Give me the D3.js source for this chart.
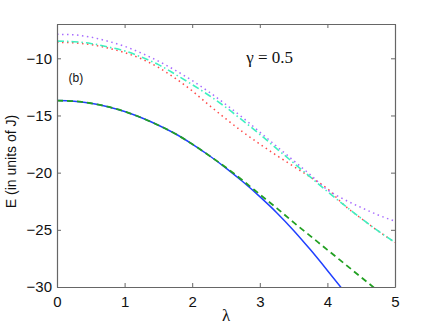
<!DOCTYPE html>
<html>
<head>
<meta charset="utf-8">
<script src="https://cdn.jsdelivr.net/npm/d3@7"></script>
<style>
  html, body { margin: 0; padding: 0; background: #fff; }
  svg { display: block; }
</style>
</head>
<body>
<div id="chart"></div>
<script>
// lambda grid shared by every curve
const lambdas = [0, 0.25, 0.5, 0.75, 1, 1.25, 1.5, 1.75, 2, 2.25, 2.5, 2.75, 3, 3.25, 3.5, 3.75, 4, 4.25, 4.5, 4.75, 5];

// energies (units of J)
const blueE   = [-13.7, -13.75, -13.93, -14.23, -14.65, -15.2, -15.85, -16.6, -17.5, -18.5, -19.6, -20.8, -22.1, -23.5, -25.05, -26.75, -28.55, -30.4, null, null, null];
const greenE  = [-13.7, -13.75, -13.93, -14.23, -14.65, -15.2, -15.85, -16.6, -17.5, -18.5, -19.55, -20.7, -21.9, -23.1, -24.35, -25.55, -26.75, -27.95, -29.15, -30.35, null];
const cyanE   = [-8.5, -8.55, -8.7, -9.0, -9.35, -9.9, -10.55, -11.4, -12.3, -13.25, -14.3, -15.45, -16.65, -17.9, -19.15, -20.4, -21.65, -22.85, -24.0, -25.1, -26.1];
const purpleE = [-7.9, -7.95, -8.15, -8.5, -8.95, -9.55, -10.25, -11.05, -11.95, -12.95, -14.05, -15.2, -16.45, -17.7, -18.95, -20.2, -21.5, -22.35, -23.05, -23.7, -24.25];
const redE    = [-8.6, -8.65, -8.8, -9.1, -9.5, -10.05, -10.8, -11.75, -12.85, -14.1, -15.3, -16.45, -17.5, -18.5, -19.45, -20.4, -21.4, -22.85, -24.0, -25.1, -26.1];

const xTicks = [0, 1, 2, 3, 4, 5];
const yTicks = [-30, -25, -20, -15, -10];

const width = 436, height = 324;
const margin = { top: 24, right: 41, bottom: 37, left: 57 };
const w = width - margin.left - margin.right;
const h = height - margin.top - margin.bottom;

const x = d3.scaleLinear().domain([0, 5]).range([0, w]);
const y = d3.scaleLinear().domain([-30, -7]).range([h, 0]);

const svg = d3.select("#chart").append("svg")
  .attr("width", width)
  .attr("height", height);

svg.append("defs").append("clipPath").attr("id", "clip")
  .append("rect").attr("width", w).attr("height", h);

const g = svg.append("g")
  .attr("transform", `translate(${margin.left},${margin.top})`);

const axisColor = "#666";
const sansFont = "'Liberation Sans', Arial, Helvetica, sans-serif";
const serifFont = "'Liberation Serif', 'Times New Roman', serif";

// curves
const series = [
  { vals: redE,    color: "#ff4a4a", dash: "1.5,3.5", width: 1.5 },
  { vals: purpleE, color: "#a86cff", dash: "1.5,3.5", width: 1.5 },
  { vals: cyanE,   color: "#40f0c0", dash: "7,3,1.5,3", width: 1.6 },
  { vals: blueE,   color: "#2040ff", dash: null, width: 1.5 },
  { vals: greenE,  color: "#22a022", dash: "6,4", width: 1.8 },
];

const line = d3.line()
  .defined(d => d[1] !== null)
  .x(d => x(d[0]))
  .y(d => y(d[1]))
  .curve(d3.curveMonotoneX);

const plot = g.append("g").attr("clip-path", "url(#clip)");
series.forEach(s => {
  plot.append("path")
    .attr("d", line(d3.zip(lambdas, s.vals)))
    .attr("fill", "none")
    .attr("stroke", s.color)
    .attr("stroke-width", s.width)
    .attr("stroke-dasharray", s.dash);
});

// axes: ticks inside, box on all sides
const xAxis = g.append("g")
  .attr("transform", `translate(0,${h})`)
  .call(d3.axisBottom(x).tickValues(xTicks).tickSizeInner(-4).tickSizeOuter(0).tickPadding(9)
    .tickFormat(d3.format("d")));
const yAxis = g.append("g")
  .call(d3.axisLeft(y).tickValues(yTicks).tickSizeInner(-4).tickSizeOuter(0).tickPadding(5)
    .tickFormat(d => String(d).replace("-", "\u2212")));
const xTop = g.append("g")
  .call(d3.axisTop(x).tickValues(xTicks).tickSizeInner(-4).tickSizeOuter(0).tickFormat(""));
const yRight = g.append("g")
  .attr("transform", `translate(${w},0)`)
  .call(d3.axisRight(y).tickValues(yTicks).tickSizeInner(-4).tickSizeOuter(0).tickFormat(""));

[xAxis, yAxis, xTop, yRight].forEach(a => {
  a.selectAll(".domain").attr("stroke", axisColor).attr("stroke-width", 1.2);
  a.selectAll(".tick line").attr("stroke", axisColor);
  a.selectAll("text").attr("fill", "#111").style("font-family", sansFont).style("font-size", "15px");
});

// labels
svg.append("text")
  .attr("transform", `translate(16,${margin.top + h / 2 + 6}) rotate(-90)`)
  .attr("text-anchor", "middle")
  .style("font-family", sansFont)
  .style("font-size", "14px")
  .attr("fill", "#111")
  .text("E (in units of J)");

svg.append("text")
  .attr("x", margin.left + x(2.5))
  .attr("y", 321)
  .attr("text-anchor", "middle")
  .style("font-family", serifFont)
  .style("font-size", "17px")
  .attr("fill", "#111")
  .text("λ");

g.append("text")
  .attr("x", x(2.8))
  .attr("y", 39)
  .style("font-family", serifFont)
  .style("font-size", "17px")
  .attr("fill", "#111")
  .text("γ = 0.5");

g.append("text")
  .attr("x", x(0.17))
  .attr("y", 58)
  .style("font-family", sansFont)
  .style("font-size", "12px")
  .attr("fill", "#111")
  .text("(b)");
</script>
</body>
</html>
